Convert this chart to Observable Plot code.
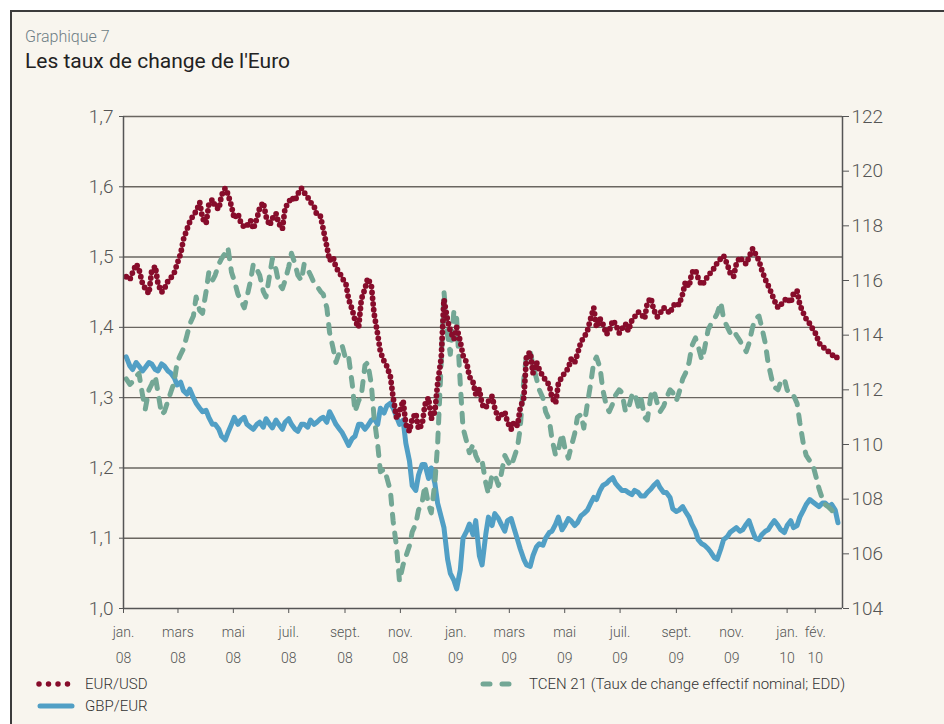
<!DOCTYPE html>
<html><head><meta charset="utf-8">
<script src="https://cdn.jsdelivr.net/npm/d3@7"></script>
<script src="https://cdn.jsdelivr.net/npm/@observablehq/plot@0.6"></script>
<style>
html,body{margin:0;padding:0;background:#fff;width:944px;height:724px;overflow:hidden;font-family:Roboto, sans-serif;}
#frame{position:absolute;left:10px;top:10px;width:940px;height:720px;background:#f8f5ee;border-left:2px solid #3c3c3c;border-top:2px solid #3c3c3c;}
#kicker{position:absolute;left:25px;top:27px;font-size:16px;color:#6e7d85;font-weight:300;white-space:nowrap}
#title{position:absolute;left:25px;top:49px;font-size:21px;color:#222;white-space:nowrap}
#chart{position:absolute;left:0;top:90px}
.leg{position:absolute;font-size:15px;color:#333;font-weight:300;white-space:nowrap;line-height:18px}
.sw{position:absolute}
</style></head><body>
<div id="frame"></div>
<div id="kicker">Graphique 7</div>
<div id="title">Les taux de change de l'Euro</div>
<div id="chart"></div>
<svg class="sw" style="left:32px;top:676px" width="50" height="40">
  <line x1="7" y1="8" x2="40" y2="8" stroke="#870c2b" stroke-width="5.5" stroke-linecap="round" stroke-dasharray="0 9.5"/>
  <line x1="8" y1="30" x2="40" y2="30" stroke="#519fc5" stroke-width="5" stroke-linecap="round"/>
</svg>
<svg class="sw" style="left:476px;top:676px" width="50" height="20">
  <line x1="7" y1="8" x2="38" y2="8" stroke="#73a795" stroke-width="5" stroke-linecap="round" stroke-dasharray="7 12"/>
</svg>
<div class="leg" style="left:85px;top:675px">EUR/USD</div>
<div class="leg" style="left:85px;top:697px">GBP/EUR</div>
<div class="leg" style="left:529px;top:675px">TCEN 21 (Taux de change effectif nominal; EDD)</div>
<script>
// Weekly readings (Fridays from 4 Jan 2008)
const eurusd = [
1.472,1.478,1.483,1.455,1.480,1.462,1.455,1.470,1.490,1.525,
1.550,1.565,1.555,1.575,1.572,1.588,1.590,1.555,1.550,1.545,
1.540,1.570,1.558,1.555,1.548,1.570,1.585,1.590,1.592,1.578,
1.560,1.540,1.495,1.485,1.470,1.440,1.410,1.440,1.470,1.420,
1.365,1.345,1.300,1.280,1.262,1.270,1.255,1.290,1.270,1.320,
1.440,1.395,1.400,1.360,1.330,1.305,1.290,1.295,1.285,1.275,
1.265,1.265,1.285,1.360,1.335,1.340,1.325,1.300,1.320,1.335,
1.355,1.362,1.385,1.410,1.400,1.405,1.395,1.405,1.398,1.395,
1.415,1.420,1.435,1.425,1.420,1.425,1.430,1.432,1.465,1.478,
1.470,1.465,1.478,1.492,1.502,1.478,1.490,1.495,1.500,1.505,
1.482,1.460,1.438,1.432,1.442,1.448,1.432,1.412,1.398,1.378,
1.370,1.362,1.358];
// Mid-week readings (Tuesdays between the Fridays above)
const eurusdMid = [
1.468,1.490,1.462,1.448,1.487,1.450,1.466,1.478,1.505,1.540,
1.560,1.578,1.548,1.582,1.568,1.598,1.572,1.562,1.542,1.552,
1.555,1.578,1.545,1.562,1.540,1.578,1.580,1.598,1.585,1.572,
1.558,1.515,1.500,1.478,1.462,1.425,1.400,1.455,1.460,1.390,
1.352,1.330,1.270,1.296,1.252,1.278,1.262,1.300,1.280,1.357,
1.410,1.383,1.380,1.350,1.322,1.312,1.285,1.302,1.270,1.280,
1.255,1.260,1.300,1.365,1.350,1.330,1.318,1.292,1.330,1.342,
1.350,1.380,1.395,1.428,1.412,1.390,1.410,1.392,1.405,1.410,
1.422,1.412,1.442,1.415,1.428,1.420,1.435,1.448,1.458,1.482,
1.460,1.474,1.485,1.498,1.490,1.472,1.500,1.490,1.512,1.495,
1.468,1.448,1.428,1.438,1.435,1.452,1.420,1.405,1.390,1.372,
1.365,1.356];
const gbpeur = [
1.358,1.340,1.345,1.343,1.348,1.338,1.345,1.335,1.318,1.310,
1.312,1.292,1.280,1.272,1.262,1.245,1.250,1.272,1.268,1.262,
1.255,1.265,1.270,1.257,1.262,1.265,1.262,1.252,1.262,1.268,
1.265,1.272,1.280,1.262,1.250,1.232,1.245,1.262,1.260,1.270,
1.285,1.288,1.285,1.262,1.235,1.175,1.190,1.205,1.200,1.150,
1.115,1.050,1.028,1.100,1.120,1.125,1.062,1.130,1.135,1.120,
1.125,1.115,1.085,1.062,1.075,1.092,1.100,1.110,1.130,1.118,
1.125,1.122,1.135,1.148,1.155,1.175,1.182,1.178,1.168,1.165,
1.168,1.160,1.165,1.175,1.172,1.165,1.142,1.140,1.138,1.120,
1.098,1.090,1.080,1.070,1.098,1.108,1.115,1.112,1.125,1.100,
1.105,1.112,1.125,1.112,1.118,1.115,1.130,1.148,1.152,1.145,
1.150,1.148,1.122];
const gbpeurMid = [
1.345,1.350,1.338,1.350,1.340,1.348,1.338,1.328,1.322,1.305,
1.300,1.285,1.282,1.262,1.255,1.240,1.262,1.262,1.272,1.258,
1.262,1.258,1.262,1.268,1.255,1.270,1.255,1.262,1.258,1.262,
1.270,1.265,1.270,1.255,1.240,1.242,1.262,1.255,1.268,1.262,
1.278,1.292,1.272,1.268,1.210,1.168,1.205,1.185,1.178,1.130,
1.070,1.040,1.055,1.110,1.105,1.075,1.105,1.118,1.128,1.110,
1.128,1.098,1.070,1.060,1.088,1.090,1.108,1.120,1.112,1.128,
1.118,1.132,1.140,1.158,1.168,1.178,1.186,1.172,1.168,1.162,
1.165,1.160,1.170,1.180,1.165,1.158,1.138,1.145,1.130,1.110,
1.092,1.085,1.072,1.085,1.102,1.112,1.110,1.120,1.110,1.098,
1.110,1.120,1.118,1.108,1.125,1.118,1.140,1.155,1.148,1.150,
1.145,1.140];
const tcen = [
112.4,112.3,112.6,111.3,112.2,111.9,111.2,111.9,113.0,113.5,
114.4,115.4,114.8,116.3,116.2,116.8,117.2,116.0,115.3,115.4,
116.6,116.2,115.4,116.8,115.9,116.0,117.0,116.2,116.6,116.2,
115.8,115.5,114.1,113.0,113.6,113.2,111.2,111.8,113.0,111.0,
109.0,108.8,107.2,105.0,105.9,106.8,107.6,108.5,107.5,110.0,
115.6,113.3,114.6,110.6,109.7,109.6,109.4,108.2,108.9,108.9,
109.4,109.5,110.6,113.3,112.9,112.0,111.2,110.2,109.8,109.9,
109.9,111.0,110.6,112.1,113.2,112.0,111.2,111.8,111.9,111.3,
111.9,111.7,110.9,112.0,111.2,111.7,111.9,111.9,112.6,113.6,
113.6,113.5,114.4,114.8,114.6,114.1,114.0,113.6,113.7,114.6,
114.3,113.0,112.1,112.3,112.0,111.8,110.8,109.6,109.3,108.4,
107.8,107.6,107.3];
const tcenMid = [
112.2,112.5,111.8,112.0,112.5,111.1,111.6,112.3,113.3,114.0,
114.7,114.9,115.6,116.0,116.6,117.0,116.3,115.5,115.0,116.0,
116.4,115.6,116.2,116.4,115.7,116.5,116.6,116.0,116.4,115.9,
115.6,115.0,113.5,113.4,113.1,112.2,111.6,112.9,112.2,110.0,
109.1,108.3,106.2,105.6,106.3,107.1,107.9,107.8,108.6,113.0,
114.0,114.9,112.2,110.1,110.0,109.3,108.6,108.9,108.5,109.6,
109.2,109.9,112.4,113.4,112.4,111.7,110.9,109.6,110.4,109.5,
110.4,111.1,111.5,113.0,112.8,111.4,111.5,112.0,111.2,111.8,
111.4,111.0,111.8,111.5,111.4,112.0,111.6,112.4,113.0,113.9,
113.1,114.2,114.6,115.2,114.3,114.2,113.8,113.4,114.3,114.7,
113.7,112.4,112.0,112.4,111.8,111.5,110.0,109.4,108.8,108.0,
107.7,107.4];

const leftTicks = [1.0,1.1,1.2,1.3,1.4,1.5,1.6,1.7];
const rightTicks = [104,106,108,110,112,114,116,118,120,122];
const tickDates = ["2008-01-01","2008-03-01","2008-05-01","2008-07-01","2008-09-01","2008-11-01",
  "2009-01-01","2009-03-01","2009-05-01","2009-07-01","2009-09-01","2009-11-01","2010-01-01","2010-02-01"];
const tickMonths = ["jan.","mars","mai","juil.","sept.","nov.","jan.","mars","mai","juil.","sept.","nov.","jan.","fév."];
const tickYears = ["08","08","08","08","08","08","09","09","09","09","09","09","10","10"];

const DAY = 864e5;
const start = new Date(Date.UTC(2008,0,4));
const toLeft = r => 1 + (r - 104) * 0.7 / 18;
const fromLeft = v => Math.round(104 + (v - 1) * 18 / 0.7);
const rows = [];
eurusd.forEach((_, i) => {
  const d = new Date(start.getTime() + i*7*DAY);
  rows.push({date:d, eurusd:eurusd[i], gbpeur:gbpeur[i], tcen:toLeft(tcen[i])});
  if (i < eurusdMid.length) {
    rows.push({date:new Date(d.getTime() + 4*DAY), eurusd:eurusdMid[i], gbpeur:gbpeurMid[i], tcen:toLeft(tcenMid[i])});
  }
});
const tDates = tickDates.map(s => new Date(s + "T00:00:00Z"));
const monthOf = new Map(tDates.map((d,i)=>[+d, tickMonths[i]]));
const yearOf = new Map(tDates.map((d,i)=>[+d, tickYears[i]]));
const x0 = new Date("2008-01-01T00:00:00Z"), x1 = new Date("2010-03-03T00:00:00Z");

const chart = Plot.plot({
  width:944, height:590, marginLeft:123, marginRight:102, marginTop:26, marginBottom:72,
  style:{background:"transparent", fontFamily:"Roboto, sans-serif", color:"#555", fontWeight:"300", overflow:"visible"},
  x:{type:"utc", domain:[x0, x1]},
  y:{domain:[1,1.7]},
  marks:[
    Plot.ruleY(leftTicks.slice(1), {stroke:"#6a6660", strokeWidth:1.4}),
    Plot.lineY(rows,{x:"date", y:"gbpeur", stroke:"#519fc5", strokeWidth:5, strokeLinejoin:"round"}),
    Plot.lineY(rows,{x:"date", y:"tcen", stroke:"#73a795", strokeWidth:5, strokeDasharray:"9 10", strokeLinecap:"round", strokeLinejoin:"round"}),
    Plot.lineY(rows,{x:"date", y:"eurusd", stroke:"#870c2b", strokeWidth:5.8, strokeDasharray:"0 5.8", strokeLinecap:"round"}),
    Plot.ruleX([x0, x1], {y1:1, y2:1.7, stroke:"#555", strokeWidth:1.5}),
    Plot.ruleY([1], {stroke:"#555", strokeWidth:1.5}),
    Plot.axisY(leftTicks, {anchor:"left", tickSize:4, tickPadding:6, stroke:"#555", fill:"#555", fontSize:19,
      tickFormat: d => d.toFixed(1).replace(".", ",")}),
    Plot.axisY(rightTicks.map(toLeft), {anchor:"right", tickSize:6, tickPadding:3, stroke:"#555", fill:"#555", fontSize:19,
      tickFormat: v => String(fromLeft(v))}),
    Plot.axisX(tDates, {anchor:"bottom", tickSize:5, tickPadding:14, stroke:"#555", fill:"#555", fontSize:14,
      tickFormat: d => monthOf.get(+d)}),
    Plot.axisX(tDates, {anchor:"bottom", tickSize:0, tickPadding:45, fill:"#555", fontSize:14,
      tickFormat: d => yearOf.get(+d)})
  ]
});
document.getElementById("chart").appendChild(chart);
</script>
</body></html>
